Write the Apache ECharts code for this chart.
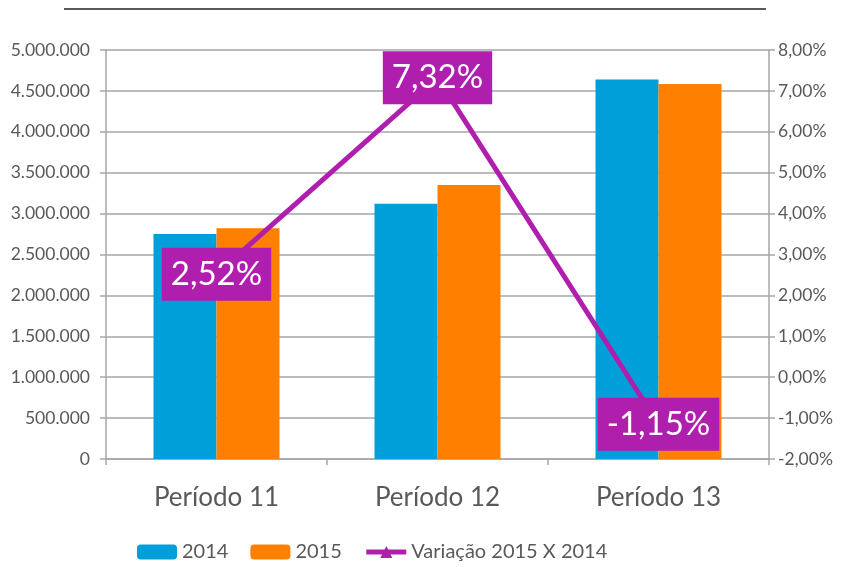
<!DOCTYPE html>
<html>
<head>
<meta charset="utf-8">
<script src="https://cdn.jsdelivr.net/npm/echarts@6/dist/echarts.min.js"></script>
<style>
  html, body { margin: 0; padding: 0; background: #fff; }
  #chart { width: 842px; height: 567px; }
</style>
</head>
<body>
<div id="chart"></div>
<script>
const categories = ["Período 11", "Período 12", "Período 13"];
const values2014 = [2750000, 3120000, 4640000];
const values2015 = [2820000, 3350000, 4585000];
const variacao = [0.0252, 0.0732, -0.0115];

const textColor = "#595959";
const gridColor = "#a6a6a6";
const font = "Lato, 'Open Sans', sans-serif";

// formata numero com separador de milhar "."
function fmtMilhar(v) {
  return String(Math.round(v)).replace(/\B(?=(\d{3})+(?!\d))/g, ".");
}
function fmtPct(v) {
  return (v * 100).toFixed(2).replace(".", ",") + "%";
}

const chart = echarts.init(document.getElementById("chart"));
chart.setOption({
  animation: false,
  textStyle: {fontFamily: font},
  graphic: [{
    type: "line",
    shape: {x1: 64, y1: 9, x2: 766, y2: 9},
    style: {stroke: "#595959", lineWidth: 2}
  }],
  grid: {left: 106, right: 73, top: 50, bottom: 108},
  legend: {
    bottom: 0,
    left: 132,
    itemWidth: 40,
    itemHeight: 15,
    itemGap: 22,
    lineStyle: {width: 5},
    textStyle: {color: textColor, fontSize: 20, fontFamily: font},
    data: ["2014", "2015", "Variação 2015 X 2014"]
  },
  xAxis: {
    type: "category",
    data: categories,
    axisLine: {lineStyle: {color: gridColor, width: 1.5}},
    axisTick: {show: true, length: 6, lineStyle: {color: gridColor, width: 1.5}},
    axisLabel: {color: textColor, fontSize: 26, margin: 26, fontFamily: font}
  },
  yAxis: [{
    type: "value",
    min: 0,
    max: 5000000,
    interval: 500000,
    axisLine: {show: true, lineStyle: {color: gridColor, width: 1.5}},
    axisTick: {show: true, length: 6, lineStyle: {color: gridColor, width: 1.5}},
    splitLine: {lineStyle: {color: gridColor, width: 1.5}},
    axisLabel: {color: textColor, fontSize: 17.5, margin: 16, formatter: fmtMilhar, fontFamily: font}
  }, {
    type: "value",
    min: -0.02,
    max: 0.08,
    interval: 0.01,
    axisLine: {show: true, lineStyle: {color: gridColor, width: 1.5}},
    axisTick: {show: true, length: 6, lineStyle: {color: gridColor, width: 1.5}},
    splitLine: {show: false},
    axisLabel: {color: textColor, fontSize: 17.5, margin: 9, formatter: fmtPct, fontFamily: font}
  }],
  series: [{
    name: "2014",
    type: "bar",
    data: values2014,
    barWidth: 63,
    barGap: "0%",
    itemStyle: {color: "#009fda"}
  }, {
    name: "2015",
    type: "bar",
    data: values2015,
    barWidth: 63,
    itemStyle: {color: "#ff8000"}
  }, {
    name: "Variação 2015 X 2014",
    type: "line",
    yAxisIndex: 1,
    data: variacao,
    symbol: "triangle",
    symbolSize: 16,
    z: 5,
    lineStyle: {color: "#b01eae", width: 5},
    itemStyle: {color: "#b01eae"},
    label: {
      show: true,
      position: "inside",
      formatter: p => fmtPct(p.value),
      color: "#fff",
      fontSize: 33,
      fontFamily: font,
      backgroundColor: "#b01eae",
      padding: [11, 9, 9, 9]
    }
  }]
});
</script>
</body>
</html>
